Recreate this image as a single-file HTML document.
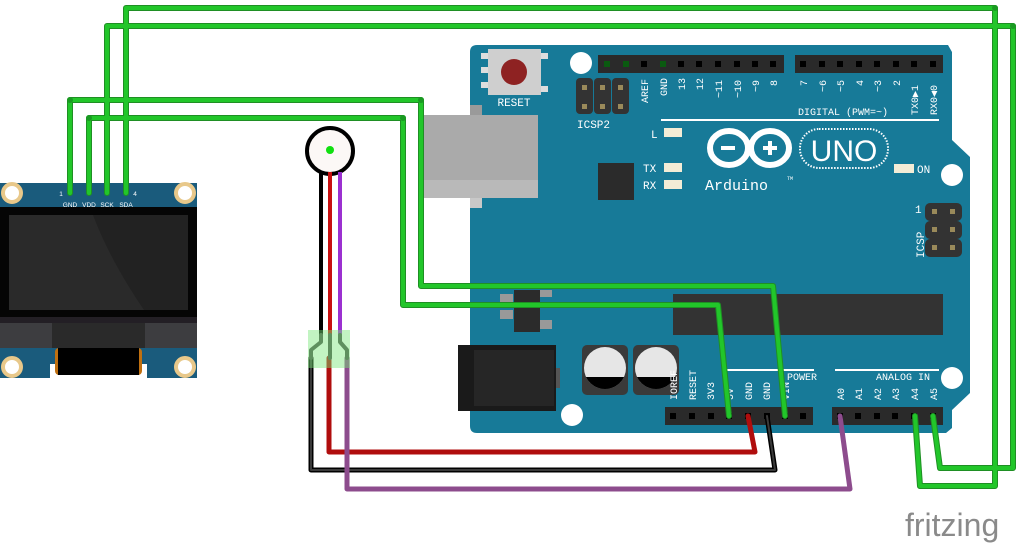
<!DOCTYPE html>
<html><head><meta charset="utf-8"><style>
html,body{margin:0;padding:0;background:#fff;width:1024px;height:546px;overflow:hidden}
svg{display:block}
.t{font-family:"Liberation Mono",monospace;fill:#fff}
.s{font-family:"Liberation Sans",sans-serif;fill:#fff}
</style></head><body>
<svg width="1024" height="546" viewBox="0 0 1024 546" xmlns="http://www.w3.org/2000/svg">
<path d="M477,45 L948,45 L952,52 L952,140 L970,157 L970,393 L952,410 L952,428 L946,433 L477,433 Q470,433 470,426 L470,52 Q470,45 477,45Z" fill="#177a98"/>
<rect x="470" y="105" width="12" height="10" fill="#9a9a9a"/>
<rect x="470" y="198" width="12" height="10" fill="#c8c8c8"/>
<rect x="424" y="115" width="114" height="83" fill="#aaaaaa"/>
<rect x="424" y="180" width="114" height="18" fill="#b9b9b9"/>
<rect x="481" y="53" width="8" height="6" fill="#ddd"/><rect x="481" y="67" width="8" height="6" fill="#ddd"/><rect x="481" y="82" width="8" height="6" fill="#ddd"/>
<rect x="540" y="53" width="8" height="6" fill="#ddd"/><rect x="540" y="86" width="8" height="6" fill="#ddd"/>
<rect x="488" y="49" width="53" height="46" fill="#cfcfcf"/>
<circle cx="514" cy="72" r="13" fill="#8e2222"/>
<text x="514" y="106" class="t" font-size="11" text-anchor="middle">RESET</text>
<circle cx="581" cy="63" r="11" fill="#fff"/>
<rect x="598" y="55" width="186" height="18" fill="#2a2a2a"/>
<rect x="795" y="55" width="148" height="18" fill="#2a2a2a"/>
<g fill="#000">
<rect x="604" y="61" width="6" height="6" fill="#0a5a10"/><rect x="623" y="61" width="6" height="6" fill="#0a5a10"/><rect x="641" y="61" width="6" height="6"/><rect x="660" y="61" width="6" height="6" fill="#0a5a10"/><rect x="678" y="61" width="6" height="6"/><rect x="696" y="61" width="6" height="6"/><rect x="715" y="61" width="6" height="6"/><rect x="734" y="61" width="6" height="6"/><rect x="752" y="61" width="6" height="6"/><rect x="770" y="61" width="6" height="6"/>
<rect x="800" y="61" width="6" height="6"/><rect x="819" y="61" width="6" height="6"/><rect x="837" y="61" width="6" height="6"/><rect x="856" y="61" width="6" height="6"/><rect x="874" y="61" width="6" height="6"/><rect x="893" y="61" width="6" height="6"/><rect x="911" y="61" width="6" height="6"/><rect x="930" y="61" width="6" height="6"/>
</g>
<g class="t" font-size="10">
<text transform="translate(648,103) rotate(-90)">AREF</text>
<text transform="translate(667,96) rotate(-90)">GND</text>
<text transform="translate(685,90) rotate(-90)">13</text>
<text transform="translate(703,90) rotate(-90)">12</text>
<text transform="translate(722,98) rotate(-90)">~11</text>
<text transform="translate(741,98) rotate(-90)">~10</text>
<text transform="translate(759,92) rotate(-90)">~9</text>
<text transform="translate(777,86) rotate(-90)">8</text>
<text transform="translate(807,86) rotate(-90)">7</text>
<text transform="translate(826,92) rotate(-90)">~6</text>
<text transform="translate(844,92) rotate(-90)">~5</text>
<text transform="translate(863,86) rotate(-90)">4</text>
<text transform="translate(881,92) rotate(-90)">~3</text>
<text transform="translate(900,86) rotate(-90)">2</text>
<text transform="translate(918,115) rotate(-90)">TX0▶1</text>
<text transform="translate(937,115) rotate(-90)">RX0◀0</text>
<text x="798" y="115" font-size="10">DIGITAL (PWM=~)</text>
</g>
<rect x="661" y="119" width="278" height="2" fill="#fff"/>
<rect x="576" y="78" width="17" height="36" rx="4" fill="#333"/><rect x="594" y="78" width="17" height="36" rx="4" fill="#333"/><rect x="612" y="78" width="17" height="36" rx="4" fill="#333"/>
<g fill="#9a8a5a"><rect x="582" y="85" width="5" height="5"/><rect x="600" y="85" width="5" height="5"/><rect x="618" y="85" width="5" height="5"/><rect x="582" y="104" width="5" height="5"/><rect x="600" y="104" width="5" height="5"/><rect x="618" y="104" width="5" height="5"/></g>
<text x="577" y="128" class="t" font-size="11">ICSP2</text>
<text x="651" y="138" class="t" font-size="11">L</text>
<rect x="664" y="128" width="18" height="9" fill="#f3ecd6"/>
<text x="643" y="172" class="t" font-size="11">TX</text>
<rect x="664" y="163" width="18" height="9" fill="#f3ecd6"/>
<text x="643" y="189" class="t" font-size="11">RX</text>
<rect x="664" y="180" width="18" height="9" fill="#f3ecd6"/>
<rect x="598" y="163" width="36" height="37" fill="#2b2b2b"/>
<ellipse cx="729" cy="148" rx="19" ry="17" fill="none" stroke="#fff" stroke-width="6"/>
<ellipse cx="770" cy="148" rx="19" ry="17" fill="none" stroke="#fff" stroke-width="6"/>
<rect x="721" y="146" width="14" height="4" fill="#fff"/>
<rect x="763" y="146" width="14" height="4" fill="#fff"/><rect x="768" y="141" width="4" height="14" fill="#fff"/>
<rect x="800" y="129" width="88" height="39" rx="19" fill="none" stroke="#fff" stroke-width="2" stroke-dasharray="1.5 1.5"/>
<text x="844" y="161" class="s" font-size="30" text-anchor="middle">UNO</text>
<text x="705" y="190" class="t" font-size="15">Arduino</text>
<text x="787" y="180" class="t" font-size="5">TM</text>
<rect x="894" y="164" width="20" height="9" fill="#f3ecd6"/>
<text x="917" y="173" class="t" font-size="11">ON</text>
<circle cx="952" cy="175" r="11" fill="#fff"/>
<rect x="925" y="203" width="37" height="18" rx="5" fill="#333"/><rect x="925" y="221" width="37" height="18" rx="5" fill="#333"/><rect x="925" y="239" width="37" height="18" rx="5" fill="#333"/>
<g fill="#9a8a5a"><rect x="932" y="209" width="5" height="5"/><rect x="950" y="209" width="5" height="5"/><rect x="932" y="227" width="5" height="5"/><rect x="950" y="227" width="5" height="5"/><rect x="932" y="245" width="5" height="5"/><rect x="950" y="245" width="5" height="5"/></g>
<text x="915" y="213" class="t" font-size="11">1</text>
<text transform="translate(924,258) rotate(-90)" class="t" font-size="11">ICSP</text>
<rect x="673" y="294" width="270" height="41" fill="#333"/>
<rect x="500" y="294" width="13" height="9" fill="#999"/><rect x="500" y="310" width="13" height="9" fill="#999"/>
<rect x="540" y="290" width="12" height="7" fill="#999"/><rect x="540" y="320" width="12" height="9" fill="#999"/>
<rect x="514" y="290" width="26" height="42" fill="#2b2b2b"/>
<rect x="458" y="345" width="98" height="66" fill="#1a1a1a"/>
<rect x="474" y="350" width="80" height="56" fill="#262626"/>
<rect x="556" y="368" width="4" height="20" fill="#555"/>
<rect x="582" y="345" width="46" height="50" rx="5" fill="#3a3a3a"/>
<rect x="633" y="345" width="46" height="50" rx="5" fill="#3a3a3a"/>
<circle cx="605" cy="368" r="21" fill="#e6e6e6"/><path d="M586,377 L624,377 A21,21 0 0 1 586,377Z" fill="#000"/>
<circle cx="656" cy="368" r="21" fill="#e6e6e6"/><path d="M637,377 L675,377 A21,21 0 0 1 637,377Z" fill="#000"/>
<circle cx="572" cy="415" r="11" fill="#fff"/>
<circle cx="952" cy="378" r="11" fill="#fff"/>
<rect x="722" y="369" width="92" height="2" fill="#fff"/>
<rect x="835" y="369" width="104" height="2" fill="#fff"/>
<g class="t" font-size="10">
<text x="787" y="380">POWER</text>
<text x="876" y="380">ANALOG IN</text>
<text transform="translate(677,400) rotate(-90)">IOREF</text>
<text transform="translate(696,400) rotate(-90)">RESET</text>
<text transform="translate(714,400) rotate(-90)">3V3</text>
<text transform="translate(733,400) rotate(-90)">5V</text>
<text transform="translate(752,400) rotate(-90)">GND</text>
<text transform="translate(770,400) rotate(-90)">GND</text>
<text transform="translate(789,400) rotate(-90)">VIN</text>
<text transform="translate(844,400) rotate(-90)">A0</text>
<text transform="translate(862,400) rotate(-90)">A1</text>
<text transform="translate(881,400) rotate(-90)">A2</text>
<text transform="translate(899,400) rotate(-90)">A3</text>
<text transform="translate(918,400) rotate(-90)">A4</text>
<text transform="translate(937,400) rotate(-90)">A5</text>
</g>
<rect x="665" y="407" width="148" height="18" fill="#2a2a2a"/>
<rect x="832" y="407" width="111" height="18" fill="#2a2a2a"/>
<g fill="#000">
<rect x="670" y="413" width="6" height="6"/><rect x="689" y="413" width="6" height="6"/><rect x="708" y="413" width="6" height="6"/><rect x="726" y="413" width="6" height="6"/><rect x="745" y="413" width="6" height="6"/><rect x="764" y="413" width="6" height="6"/><rect x="782" y="413" width="6" height="6"/><rect x="800" y="413" width="6" height="6"/>
<rect x="837" y="413" width="6" height="6"/><rect x="855" y="413" width="6" height="6"/><rect x="874" y="413" width="6" height="6"/><rect x="892" y="413" width="6" height="6"/><rect x="911" y="413" width="6" height="6"/><rect x="930" y="413" width="6" height="6"/>
</g>
<rect x="0" y="183" width="197" height="195" fill="#1a5b7c"/>
<rect x="0" y="207" width="197" height="112" fill="#050505"/>
<rect x="9" y="215" width="179" height="95" fill="#2a2a2a"/>
<path d="M93,215 L188,215 L188,310 L144,310 Q110,260 93,215Z" fill="#222"/>
<rect x="0" y="317" width="197" height="8" fill="#231f25"/>
<rect x="0" y="323" width="197" height="25" fill="#3d3d40"/>
<rect x="52" y="323" width="93" height="25" fill="#2a2a2a"/>
<rect x="0" y="348" width="197" height="30" fill="#1a5b7c"/>
<rect x="50" y="364" width="97" height="14" fill="#fff"/>
<rect x="55" y="348" width="87" height="27" rx="4" fill="#c07010"/>
<rect x="58" y="348" width="81" height="27" fill="#000"/>
<g fill="#fff" stroke="#e8c88a" stroke-width="4"><circle cx="12" cy="193" r="9"/><circle cx="185" cy="193" r="9"/><circle cx="12" cy="367" r="9"/><circle cx="185" cy="367" r="9"/></g>
<g class="s" font-size="6.5" text-anchor="middle">
<text x="70" y="207">GND</text><text x="89" y="207">VDD</text><text x="107" y="207">SCK</text><text x="126" y="207">SDA</text>
<text x="61" y="196">1</text><text x="135" y="196">4</text>
</g>
<circle cx="330" cy="151" r="23" fill="#fcf8f6" stroke="#000" stroke-width="4"/>
<circle cx="330" cy="150" r="4" fill="#11e011"/>
<g stroke-width="4" fill="none">
<path d="M321,172 L321,335" stroke="#000"/>
<path d="M330,172 L330,335" stroke="#c81010"/>
<path d="M340,172 L340,335" stroke="#9b30d0"/>
</g>
<g fill="none" stroke-linejoin="round" stroke-linecap="round">
<g stroke="#1f8f24" stroke-width="6">
<path d="M70,193 L70,100 L421,100 L421,286 L773,286 L785,416"/>
<path d="M89,193 L89,118 L403,118 L403,305 L718,305 L729,416"/>
<path d="M126,193 L126,8 L995,8 L995,486 L920,486 L915,416"/>
<path d="M107,193 L107,26 L1013,26 L1013,468 L940,468 L933,416"/>
</g>
<g stroke="#22c62a" stroke-width="4">
<path d="M70,193 L70,100 L421,100 L421,286 L773,286 L785,416"/>
<path d="M89,193 L89,118 L403,118 L403,305 L718,305 L729,416"/>
<path d="M126,193 L126,8 L995,8 L995,486 L920,486 L915,416"/>
<path d="M107,193 L107,26 L1013,26 L1013,468 L940,468 L933,416"/>
</g>
<path d="M311,358 L311,470 L775,470 L767,416" stroke="#000" stroke-width="5"/>
<path d="M311,358 L311,470 L775,470 L767,416" stroke="#3a3a3a" stroke-width="2"/>
<path d="M329,358 L329,452 L755,452 L748,416" stroke="#b00d0d" stroke-width="5"/>
<path d="M347,358 L347,489 L850,489 L840,416" stroke="#8d4c8d" stroke-width="5"/>
<path d="M321,335 L321,342 L311,350 L311,358 M340,335 L340,342 L347,350 L347,358 M330,335 L330,358" stroke="#4a4a4a" stroke-width="4"/>
</g>
<rect x="308" y="330" width="15" height="38" fill="rgba(120,230,120,0.45)"/>
<rect x="323" y="330" width="13" height="38" fill="rgba(120,230,120,0.45)"/>
<rect x="336" y="330" width="14" height="38" fill="rgba(120,230,120,0.45)"/>
<g fill="#1a9a22"><circle cx="70" cy="100" r="3"/><circle cx="89" cy="118" r="3"/><circle cx="421" cy="100" r="3"/><circle cx="403" cy="118" r="3"/><circle cx="995" cy="8" r="3"/><circle cx="1013" cy="26" r="3"/></g>
<text x="905" y="536" font-family="'Liberation Sans',sans-serif" font-size="32" fill="#8a8a8a">fritzing</text>
</svg>
</body></html>
